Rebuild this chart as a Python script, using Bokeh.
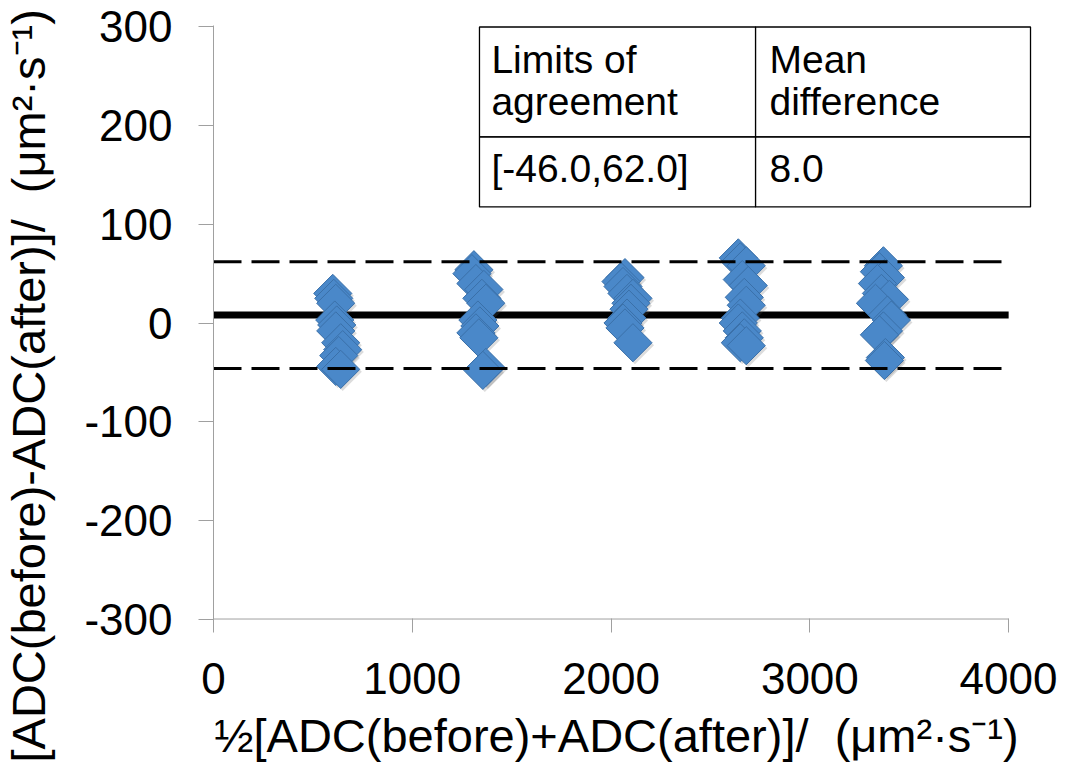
import math
from bokeh.plotting import figure
from bokeh.models import Range1d, Label, ColumnDataSource, FixedTicker, Title
from bokeh.transform import dodge
from bokeh.embed import file_html
from bokeh.resources import INLINE

# ---------------- data ----------------
x_c1 = [600, 605, 615, 610, 620, 615, 640, 650, 630, 615, 640]
y_c1 = [30, 25, 20, 3, -2, -8, -20, -27, -33, -44, -47]
x_c2 = [1310, 1300, 1320, 1360, 1350, 1370, 1330, 1340, 1320, 1335, 1370, 1355]
y_c2 = [54, 50, 40, 34, 25, 20, 3, -3, -10, -15, -45, -48]
x_c3 = [2070, 2050, 2060, 2080, 2110, 2100, 2090, 2080, 2060, 2070, 2110]
y_c3 = [46, 42, 37, 30, 25, 20, 14, 5, 0, -5, -20]
x_c4 = [2640, 2650, 2680, 2660, 2690, 2670, 2680, 2650, 2640, 2660, 2670, 2650, 2680]
y_c4 = [66, 62, 58, 44, 38, 26, 18, 5, 0, -8, -15, -20, -23]
x_c5 = [3370, 3350, 3380, 3340, 3360, 3400, 3330, 3390, 3410, 3370, 3350, 3380, 3375]
y_c5 = [58, 52, 46, 40, 30, 24, 20, 8, 3, -8, -12, -35, -38]

mean_diff = 8.0
loa_low = -46.0
loa_high = 62.0

x_ticks = [0, 1000, 2000, 3000, 4000]
y_ticks = [-300, -200, -100, 0, 100, 200, 300]

table_header = [["Limits of", "agreement"], ["Mean", "difference"]]
table_values = ["[-46.0,62.0]", "8.0"]

NB = "\u00a0"
x_title = "\u00bd[ADC(before)+ADC(after)]/" + NB + NB + "(\u03bcm\u00b2\u00b7s\u207b\u00b9)" + NB
y_title = "[ADC(before)-ADC(after)]/" + NB + NB + "(\u03bcm\u00b2\u00b7s\u207b\u00b9)"

# ---------------- styling ----------------
FONT = "Liberation Sans"
AXIS_GRAY = "#A0A0A0"
W, H = 1057, 764
BL, BR, BT, BB = 207, 25, 25, 144

xs = x_c1 + x_c2 + x_c3 + x_c4 + x_c5
ys = y_c1 + y_c2 + y_c3 + y_c4 + y_c5
src = ColumnDataSource(dict(x=xs, y=ys))

p = figure(width=W, height=H, output_backend="svg", toolbar_location=None,
           x_range=Range1d(x_ticks[0], 4120), y_range=Range1d(-301.5, 301.5),
           min_border_left=BL, min_border_right=BR, min_border_top=BT, min_border_bottom=BB)
p.outline_line_color = None
p.xgrid.visible = False
p.ygrid.visible = False
p.background_fill_color = "white"
p.border_fill_color = "white"

for ax in (p.xaxis[0], p.yaxis[0]):
    ax.major_label_text_font = FONT
    ax.major_label_text_font_size = "44px"
    ax.major_label_text_color = "black"
    ax.minor_tick_line_color = None
    ax.major_tick_line_color = AXIS_GRAY
    ax.major_tick_line_width = 1
    ax.axis_label_text_font = FONT
    ax.axis_label_text_font_size = "47px"
    ax.axis_label_text_font_style = "normal"
    ax.axis_label_text_color = "black"

p.xaxis.ticker = FixedTicker(ticks=x_ticks)
p.xaxis.major_label_overrides = {t: str(t) for t in x_ticks}
p.xaxis.axis_line_color = None
p.xaxis.major_tick_in = 2
p.xaxis.major_tick_out = 12
p.xaxis.major_label_standoff = 30
p.xaxis.axis_label = x_title
p.xaxis.axis_label_standoff = 12

p.yaxis.ticker = FixedTicker(ticks=y_ticks)
p.yaxis.major_label_overrides = {t: str(t) for t in y_ticks}
p.yaxis.axis_line_color = AXIS_GRAY
p.yaxis.axis_line_width = 1
p.yaxis.major_tick_in = 0
p.yaxis.major_tick_out = 15
p.yaxis.major_label_standoff = 26
# blank spacer label that widens the axis panel so the title sits at the far left
p.yaxis.axis_label = NB
p.yaxis.axis_label_text_font_size = "1px"
p.yaxis.axis_label_standoff = 22

# y-axis title, anchored below the frame so that it sits lower as in the reference
p.add_layout(Title(text=y_title, align="left", offset=-142, vertical_align="middle",
                   standoff=0, text_font=FONT, text_font_size="47px",
                   text_font_style="normal", text_color="black"), "left")

# x-axis line limited to the tick span
p.segment(x0=[x_ticks[0]], x1=[x_ticks[-1]], y0=[y_ticks[0]], y1=[y_ticks[0]],
          line_color=AXIS_GRAY, line_width=1)

# mean difference line (behind points)
p.segment(x0=[x_ticks[0]], x1=[x_ticks[-1]], y0=[mean_diff], y1=[mean_diff],
          line_color="black", line_width=7)

# point shadows and points
p.scatter(x=dodge("x", 10, range=p.x_range), y=dodge("y", -2.5, range=p.y_range), source=src,
          marker="square", angle=math.pi / 4, size=27,
          fill_color="#606060", fill_alpha=0.22, line_color=None)
p.scatter(x="x", y="y", source=src, marker="square", angle=math.pi / 4, size=27,
          fill_color="#4A88C9", line_color="#3A70A9", line_width=1)

# limits of agreement (dashed, over points)
for lv in (loa_high, loa_low):
    p.segment(x0=[x_ticks[0]], x1=[x_ticks[-1]], y0=[lv], y1=[lv],
              line_color="black", line_width=3, line_dash="28 10")

# ---------------- table ----------------
T_LEFT, T_MID, T_RIGHT = 1338, 2727, 4110
T_TOP, T_DIV, T_BOT = 300, 188.5, 117.6
p.quad(left=[T_LEFT, T_MID, T_LEFT, T_MID], right=[T_MID, T_RIGHT, T_MID, T_RIGHT],
       top=[T_TOP, T_TOP, T_DIV, T_DIV], bottom=[T_DIV, T_DIV, T_BOT, T_BOT],
       fill_color="white", line_color="black", line_width=1.3)

col_x = [1398, 2797]
row_y = [266.6, 224.0, 156.1]
for ci in range(2):
    for li, line in enumerate(table_header[ci]):
        p.add_layout(Label(x=col_x[ci], y=row_y[li], text=line,
                           text_font=FONT, text_font_size="39px", text_color="black",
                           text_baseline="middle", text_align="left"))
    p.add_layout(Label(x=col_x[ci], y=row_y[2], text=table_values[ci],
                       text_font=FONT, text_font_size="39px", text_color="black",
                       text_baseline="middle", text_align="left"))

open("out.html", "w").write(file_html(p, INLINE))
